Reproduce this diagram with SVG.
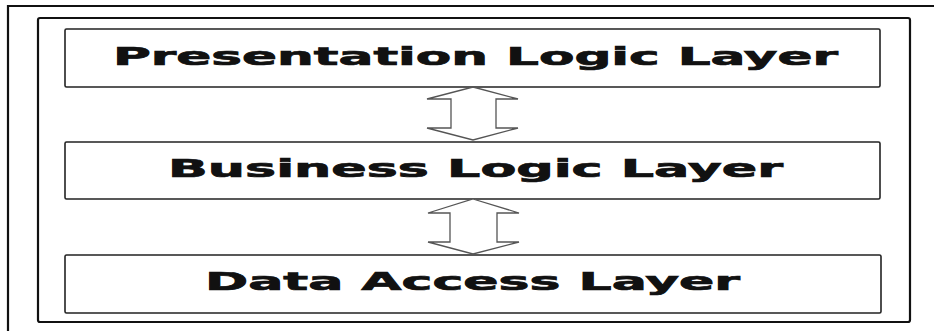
<svg xmlns="http://www.w3.org/2000/svg" width="934" height="331" viewBox="0 0 934 331">
<style>
.frame{fill:none;stroke:#111;stroke-width:2.2}
.box{fill:#fff;stroke:#222;stroke-width:1.6}
.lbl{font-family:"DejaVu Sans","Liberation Sans",sans-serif;font-weight:bold;font-size:24.5px;fill:#111;stroke:#111;stroke-width:0.7}
.arr{fill:#fff;stroke:#555;stroke-width:1.3;stroke-linejoin:miter}
</style>
<rect width="934" height="331" fill="#fff"/>
<g id="outer-frame">
<path class="frame" d="M8,331 L8,6 L934,6" stroke-width="2.5"/>
<rect class="frame" x="38" y="18" width="872" height="304" rx="2"/>
</g>
<g id="presentation">
<rect class="box" x="65" y="29" width="815" height="58" rx="1.5"/>
<text class="lbl" x="113" y="65" textLength="725" lengthAdjust="spacingAndGlyphs">Presentation Logic Layer</text>
</g>
<g id="business">
<rect class="box" x="65" y="142" width="815" height="57" rx="1.5"/>
<text class="lbl" x="168" y="177" textLength="615" lengthAdjust="spacingAndGlyphs">Business Logic Layer</text>
</g>
<g id="data">
<rect class="box" x="65" y="255" width="816" height="58" rx="1.5"/>
<text class="lbl" x="205" y="290" textLength="535" lengthAdjust="spacingAndGlyphs">Data Access Layer</text>
</g>
<g id="connectors">
<path class="arr" d="M473,87 L518,99 L496,99 L496,128 L518,128 L473,140 L427,128 L451,128 L451,99 L427,99 Z"/>
<path class="arr" d="M473,199 L519,213 L497,213 L497,242 L519,242 L473,254 L428,242 L450,242 L450,213 L428,213 Z"/>
</g>
</svg>
